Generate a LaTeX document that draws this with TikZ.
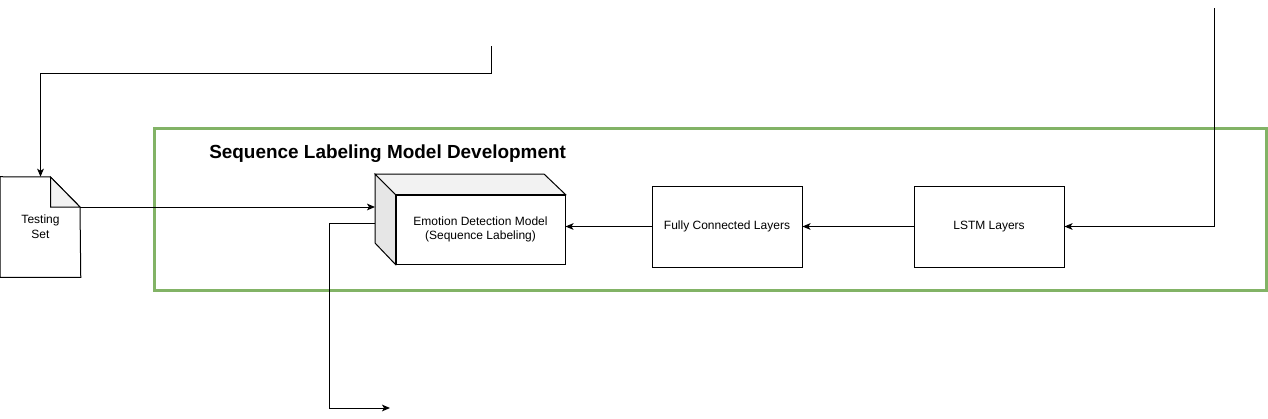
\documentclass[tikz,border=0pt]{standalone}
\usepackage{fontspec}
\setmainfont{Liberation Sans}
\usetikzlibrary{arrows.meta}
\definecolor{grn}{HTML}{82B366}
\definecolor{sideg}{HTML}{E6E6E6}
\definecolor{topg}{HTML}{F2F2F2}
\begin{document}
\begin{tikzpicture}[x=0.75pt,y=-0.75pt,
  lbl/.style={font=\fontsize{9}{11}\selectfont, align=center},
  box/.style={draw, line width=0.75pt, minimum width=112.5pt, minimum height=60.75pt, inner sep=0pt, lbl},
  conn/.style={line width=0.75pt, -{Stealth[length=6pt,width=5pt,inset=1.5pt]}},
  plain/.style={line width=0.75pt},
  frame/.style={draw=grn, line width=2.25pt}]
\useasboundingbox (0,0) rectangle (1268,418);

% green frame
\node[frame, minimum width=834pt, minimum height=121.5pt, inner sep=0pt] (grp) at (710,209) {};
\node[anchor=west, font=\fontsize{14.2}{17}\selectfont\bfseries, inner sep=0pt] (title) at (209,154) {Sequence Labeling Model Development};

% testing set document
\node[lbl, minimum width=60pt, minimum height=75pt, inner sep=0pt] (ts) at (40.5,227) {};
\draw[plain, fill=white] (ts.south west) -- (ts.north west) -- (50.5,177) -- (80,207) -- (ts.south east) -- cycle;
\draw[plain, fill=topg] (50.5,177) -- (50.5,207) -- (80,207) -- cycle;
\node[lbl, inner sep=0pt] (tstext) at (ts.center) {Testing\\Set};
\coordinate (tsf) at (80,207);

% cube
\node[box, minimum width=126.75pt, minimum height=51.75pt] (edm) at (480.5,229.5) {Emotion Detection Model\\(Sequence Labeling)};
\draw[plain, fill=sideg] (375,174) -- (edm.north west) -- (edm.south west) -- (375,243) -- cycle;
\draw[plain, fill=topg] (375,174) -- (544,174) -- (edm.north east) -- (edm.north west) -- cycle;
\coordinate (edmin) at (375,207);
\coordinate (edmout) at (375,223);

% boxes
\node[box] (fc) at (727,226.5) {Fully Connected Layers};
\node[box] (lstm) at (989,226.5) {LSTM Layers};

% connectors
\coordinate (topsrc) at (491,46);
\coordinate (rsrc) at (1214,8);
\coordinate (outend) at (390,408);

\draw[conn] (topsrc) |- (40.5,73) -- (ts.north);
\draw[conn] (tsf) -- (edmin);
\draw[conn] (edmout) -| (329,408) -- (outend);
\draw[conn] (fc.west) -- (edm.east |- fc.west);
\draw[conn] (lstm.west) -- (fc.east);
\draw[conn] (rsrc) |- (lstm.east);
\end{tikzpicture}
\end{document}
